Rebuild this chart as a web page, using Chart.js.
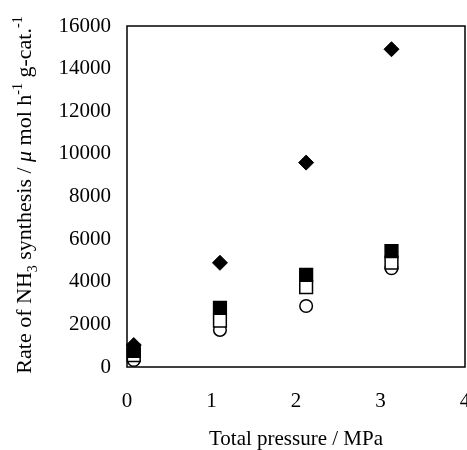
<!DOCTYPE html>
<html>
<head>
<meta charset="utf-8">
<script src="https://cdn.jsdelivr.net/npm/chart.js@4/dist/chart.umd.min.js"></script>
<style>
  html, body { margin: 0; padding: 0; background: #fff; }
  #chart { display: block; }
</style>
</head>
<body>
<canvas id="chart" width="467" height="450"></canvas>
<script>
// NH3 synthesis rate vs total pressure, four catalysts.
const pressure = [0.08, 1.1, 2.12, 3.13];
const diamondRate = [1030, 4890, 9590, 14910];
const filledSquareRate = [760, 2780, 4320, 5440];
const openSquareRate = [560, 2180, 3750, 4900];
const circleRate = [330, 1740, 2860, 4630];

const xTicks = [0, 1, 2, 3, 4];
const yTicks = [0, 2000, 4000, 6000, 8000, 10000, 12000, 14000, 16000];

const FONT = "'Liberation Serif', 'Times New Roman', serif";

function pts(ys) {
  return ys.map((y, i) => ({ x: pressure[i], y: y }));
}

// frame on all four sides of the plot
const frame = {
  id: "frame",
  beforeDatasetsDraw(chart) {
    const a = chart.chartArea, c = chart.ctx;
    c.save();
    c.strokeStyle = "#000";
    c.lineWidth = 1.5;
    c.strokeRect(a.left, a.top, a.right - a.left, a.bottom - a.top);
    c.restore();
  },
};

// rotated y title with sub/superscripts
const yTitle = {
  id: "yTitle",
  afterDraw(chart) {
    const c = chart.ctx;
    const size = 22;
    const parts = [
      { t: "Rate of NH" },
      { t: "3", sub: true },
      { t: " synthesis / " },
      { t: "\u03bc", it: true },
      { t: " mol h" },
      { t: "-1", sup: true },
      { t: " g-cat." },
      { t: "-1", sup: true },
    ];
    const fontOf = (p) => {
      const s = p.sub || p.sup ? Math.round(size * 0.62) : size;
      return (p.it ? "italic " : "") + s + "px " + FONT;
    };
    let total = 0;
    parts.forEach((p) => { c.font = fontOf(p); p.w = c.measureText(p.t).width; total += p.w; });
    c.save();
    c.translate(31, 195);
    c.rotate(-Math.PI / 2);
    c.fillStyle = "#000";
    c.textBaseline = "alphabetic";
    let x = -total / 2;
    parts.forEach((p) => {
      c.font = fontOf(p);
      let dy = 0;
      if (p.sub) dy = size * 0.25;
      if (p.sup) dy = -size * 0.42;
      c.fillText(p.t, x, dy);
      x += p.w;
    });
    c.restore();
  },
};

new Chart(document.getElementById("chart"), {
  type: "scatter",
  data: {
    datasets: [
      { label: "diamond", data: pts(diamondRate), pointStyle: "rectRot", pointRadius: 7.5,
        backgroundColor: "#000", borderColor: "#000", borderWidth: 1, clip: false },
      { label: "filled square", data: pts(filledSquareRate), pointStyle: "rect", pointRadius: 9,
        backgroundColor: "#000", borderColor: "#000", borderWidth: 1.5, clip: false },
      { label: "open square", data: pts(openSquareRate), pointStyle: "rect", pointRadius: 9,
        backgroundColor: "#fff", borderColor: "#000", borderWidth: 1.5, clip: false },
      { label: "circle", data: pts(circleRate), pointStyle: "circle", pointRadius: 6.3,
        backgroundColor: "#fff", borderColor: "#000", borderWidth: 1.5, clip: false },
    ],
  },
  options: {
    responsive: false,
    animation: false,
    events: [],
    layout: { autoPadding: false, padding: { left: 0, right: 2, top: 26, bottom: 0 } },
    plugins: { legend: { display: false }, tooltip: { enabled: false } },
    scales: {
      x: {
        type: "linear", min: 0, max: 4,
        afterFit: (s) => { s.height = 83; s.paddingLeft = 0; s.paddingRight = 0; },
        afterBuildTicks: (s) => { s.ticks = xTicks.map((v) => ({ value: v })); },
        grid: { display: false, drawTicks: false },
        border: { display: false },
        ticks: { color: "#000", padding: 22, maxRotation: 0, font: { family: FONT, size: 21 } },
        title: { display: true, text: "Total pressure / MPa", color: "#000",
                 padding: 0, font: { family: FONT, size: 21, lineHeight: 1 } },
      },
      y: {
        type: "linear", min: 0, max: 16000,
        afterFit: (s) => { s.width = 127; s.paddingTop = 0; s.paddingBottom = 0; },
        afterBuildTicks: (s) => { s.ticks = yTicks.map((v) => ({ value: v })); },
        grid: { display: false, drawTicks: false },
        border: { display: false },
        ticks: { color: "#000", padding: 16, font: { family: FONT, size: 21 },
                 callback: (v) => String(v) },
      },
    },
  },
  plugins: [frame, yTitle],
});
</script>
</body>
</html>
